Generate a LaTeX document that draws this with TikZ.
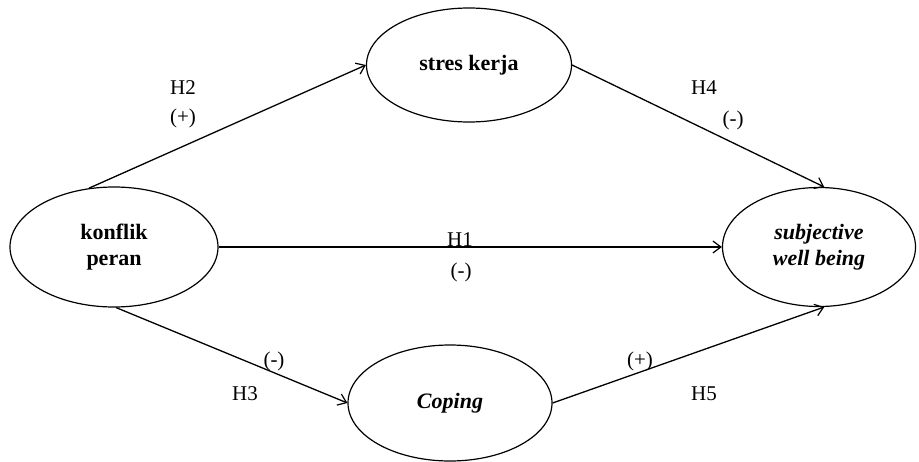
\documentclass[tikz,border=0pt]{standalone}
\usepackage{fontspec}
\setmainfont{Liberation Serif}
\usetikzlibrary{shapes.geometric,arrows.meta}
\begin{document}
\begin{tikzpicture}[x=1pt,y=-1pt,
  var/.style={ellipse,draw,line width=1.2pt,inner sep=0pt,align=center,font=\fontsize{22}{26}\selectfont\bfseries},
  conn/.style={line width=1.3pt,-{Straight Barb[length=8pt,width=12pt,line width=1.2pt]}},
  lbl/.style={font=\fontsize{21}{24}\selectfont,inner sep=0pt}]
\useasboundingbox[fill=white] (0,0) rectangle (919,461);
\node[var,minimum width=208pt,minimum height=120pt] (kp) at (114,247) {konflik\\peran};
\node[var,minimum width=205pt,minimum height=114pt] (sk) at (469,65) {stres kerja};
\node[var,minimum width=193pt,minimum height=119pt,font=\fontsize{22}{26}\selectfont\bfseries\itshape] (swb) at (819,247) {subjective\\well being};
\node[var,minimum width=204pt,minimum height=116pt,font=\fontsize{22}{26}\selectfont\bfseries\itshape] (cp) at (450,403) {Coping};
\draw[conn] (kp.113) -- (sk.west);
\draw[conn] (sk.east) -- (swb.85);
\draw[conn] (kp.east) -- (swb.west);
\draw[conn] (kp.-88) -- (cp.west);
\draw[conn] (cp.east) -- (swb.-85);
\node[lbl] (h2) at (183,88) {H2};
\node[lbl] (p2) at (183,118) {(+)};
\node[lbl] (h4) at (704,88) {H4};
\node[lbl] (p4) at (733,120) {(-)};
\node[lbl] (h1) at (460,240) {H1};
\node[lbl] (p1) at (461,272) {(-)};
\node[lbl] (p3) at (274,361) {(-)};
\node[lbl] (h3) at (245,394) {H3};
\node[lbl] (p5) at (640,361) {(+)};
\node[lbl] (h5) at (704,394) {H5};
\end{tikzpicture}
\end{document}
